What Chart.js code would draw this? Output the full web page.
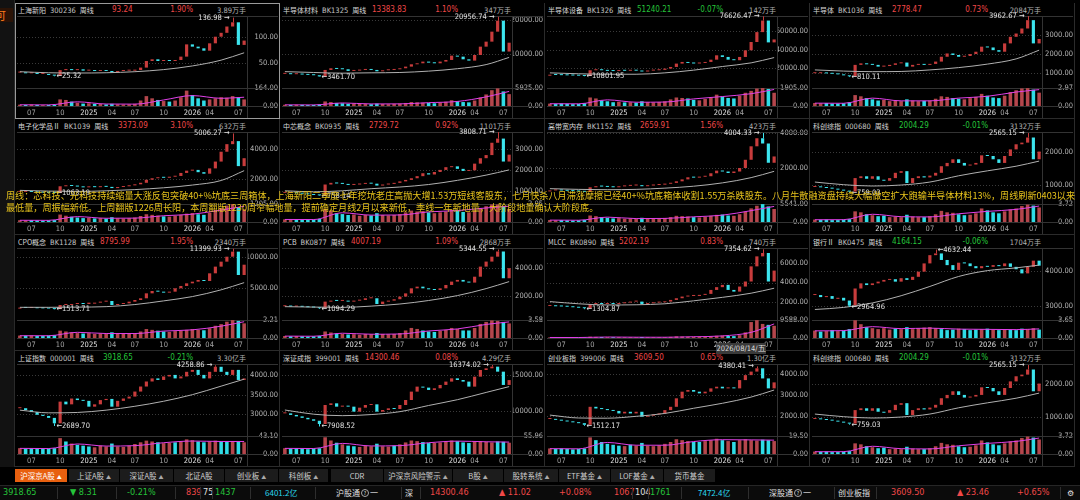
<!DOCTYPE html>
<html>
<head>
<meta charset="utf-8">
<title>周线 多股同列</title>
<script src="https://cdn.jsdelivr.net/npm/chart.js@4.4.1/dist/chart.umd.min.js"></script>
<style>
html, body { margin: 0; padding: 0; background: #000; }
#board { position: relative; width: 1080px; height: 500px; overflow: hidden; background: #000;
  font-family: "Noto Sans CJK SC", sans-serif; }
.side { position: absolute; left: 0; top: 0; width: 14px; height: 467px; background: #121212; border-right: 1px solid #2a2a2a; }
.side .mark { position: absolute; left: 0; top: 8px; width: 13px; height: 14px; background: #2b1306; color: #ff7b1c;
  font-size: 11px; line-height: 14px; overflow: hidden; text-indent: -5px; }
.panel { position: absolute; width: 265px; height: 116px; overflow: hidden; box-sizing: border-box;
  border-right: 1px solid #2b2b2b; border-bottom: 1px solid #2b2b2b; }
.panel canvas { position: absolute; left: 2px; top: 5px; }
.hd { position: absolute; top: 2px; height: 10px; line-height: 10px; white-space: nowrap; font-size: 7px; }
.nm { left: 3px; color: #d8d8d8; }
.narrow { font-family: "Liberation Sans Narrow", "DejaVu Sans Condensed", "Liberation Sans", sans-serif; }
.cd { font-size: 7.5px; color: #c6c6c6; margin: 0 4px; }
.pr, .pc { font-size: 8px; }
.pc { right: 86px; }
.am { right: 33px; color: #b4b4b4; }
.am .narrow { font-size: 7.5px; }
.up { color: #f04848; }
.dn { color: #25c43a; }
.wt { color: #e0e0e0; }
.cy { color: #2ad8f0; }
.sel { position: absolute; left: 15px; top: 3px; width: 265px; height: 116px; box-sizing: border-box;
  border: 1px solid #9a9a9a; pointer-events: none; }
#note { position: absolute; left: 6px; top: 190px; color: #e6c21c; font-size: 9.6px; line-height: 11.6px;
  white-space: nowrap; transform-origin: 0 0; }
.crossdate { position: absolute; left: 716px; top: 343px; width: 50px; height: 11px; line-height: 11px; background: #3a3a3a;
  color: #dedede; font-size: 7.5px; text-align: center; }
.tab { position: absolute; top: 469px; height: 13px; line-height: 13px; font-size: 7.5px; color: #cfcfcf;
  background: #1c1c1c; text-align: center; box-sizing: border-box; border-right: 1px solid #000; white-space: nowrap; }
.tab.on { background: #e8600f; color: #fff; }
.tab small { font-size: 5px; color: #aaa; margin-left: 2px; }
.tab.on small { color: #fff; }
.status { position: absolute; left: 0; top: 485px; width: 1080px; height: 15px; background: #0b0b0b; border-top: 1px solid #262626; }
.st { position: absolute; top: 487px; font-size: 8px; line-height: 11px; white-space: nowrap; }
.st.narrow { font-size: 9px; }
.sep { position: absolute; top: 487px; width: 1px; height: 12px; background: #2e2e2e; }
.q { display: inline-block; width: 6px; height: 6px; line-height: 6px; border: 1px solid #aaa; border-radius: 50%;
  font-size: 5px; text-align: center; vertical-align: 1px; margin: 0 1px; }
</style>
</head>
<body>
<div id="board">
  <div class="side"><div class="mark">可</div></div>
</div>
<script>
// weekly bars, roughly one point per three weeks from mid 2024 to 2026/08
const xTickLabels = ['', '', '07', '', '', '', '', '10', '', '', '', '', '2025', '', '', '', '04', '', '', '',
  '07', '', '', '', '', '10', '', '', '', '', '2026', '', '', '04', '', '', '', '', '07', ''];
const maIdx = [0, 5, 10, 15, 20, 25, 30, 35, 39];

// 上海新阳
const shxyClose = [32.3, 31, 31.6, 29.7, 29.7, 27.8, 26.5, 37, 39, 37, 38.6, 36, 36, 35.4, 36, 35.4, 33, 35.4, 36, 36,
  37.3, 41.8, 54.4, 57.6, 54.4, 56.3, 54.4, 56.3, 62.7, 86, 81.7, 78.5, 74, 88, 100.6, 108, 120, 128, 85, 93.24];
const shxyVol = [12, 10, 14, 10, 8, 10, 12, 60, 55, 40, 30, 22, 25, 20, 18, 15, 20, 15, 14, 15,
  20, 50, 90, 70, 55, 45, 40, 50, 80, 140, 100, 70, 50, 60, 70, 80, 75, 90, 80, 60];
const shxyMa = [34, 32, 31.5, 32, 34, 38, 45, 56, 70];
const shxyVolMa = [11, 10, 38, 18, 17, 55, 95, 70, 80];
const shxyTicks = [50, 100];

// 半导体材料
const bdtclClose = [4300, 4200, 4300, 4100, 4000, 3900, 3550, 5440, 5930, 5730, 5640, 5150, 5250, 5440, 5540, 5440, 5050, 5340, 5440, 5640,
  5930, 6410, 7090, 7380, 7870, 7570, 7380, 7870, 8350, 9610, 9320, 8540, 8160, 9800, 12230, 13690, 16600, 19800, 10800, 13383.83];
const bdtclVol = [400, 350, 420, 380, 300, 350, 500, 1500, 1300, 1000, 900, 700, 800, 650, 700, 600, 800, 650, 600, 700,
  800, 1000, 1300, 1200, 1100, 1000, 900, 1100, 1400, 1900, 1600, 1300, 1200, 1800, 2800, 3800, 5200, 5800, 4800, 3900];
const bdtclMa = [4950, 4700, 4500, 4600, 4700, 5100, 5800, 7000, 9100];
const bdtclVolMa = [380, 360, 1000, 680, 700, 1100, 1500, 3000, 4800];
const bdtclTicks = [10000, 20000];

// 半导体设备
const bdtsbClose = [12500, 12200, 12000, 11800, 11600, 11400, 11100, 17400, 18200, 17400, 16700, 16500, 17000, 16800, 17200, 16900, 16000, 17000, 17400, 17800,
  19200, 21000, 24700, 26500, 25400, 24800, 25400, 26500, 29000, 33800, 32000, 29000, 28400, 32000, 39300, 48400, 59300, 72000, 48000, 51240.21];
const bdtsbVol = [250, 220, 260, 230, 200, 220, 300, 900, 800, 600, 500, 400, 450, 380, 400, 350, 500, 400, 380, 420,
  500, 700, 900, 850, 800, 650, 600, 750, 900, 1200, 1000, 850, 800, 1100, 1400, 1600, 1850, 1900, 1800, 1400];
const bdtsbMa = [14500, 13500, 13000, 13000, 14500, 17500, 21500, 25500, 31300];
const bdtsbVolMa = [240, 230, 650, 400, 420, 750, 1000, 1300, 1750];
const bdtsbTicks = [20000, 40000, 60000];

// 半导体
const bdtClose = [1010, 1040, 1000, 980, 950, 900, 850, 1440, 1520, 1470, 1440, 1350, 1380, 1440, 1520, 1560, 1350, 1440, 1470, 1440,
  1490, 1610, 1860, 2030, 1950, 1860, 1900, 2000, 2120, 2380, 2340, 2200, 2120, 2550, 2890, 3060, 3320, 3750, 2550, 2778.47];
const bdtVol = [0.5, 0.45, 0.5, 0.4, 0.4, 0.45, 0.6, 1.8, 1.6, 1.3, 1.1, 0.9, 1.0, 0.8, 0.9, 0.8, 1.1, 0.9, 0.8, 0.85,
  0.9, 1.2, 1.6, 1.5, 1.3, 1.2, 1.1, 1.3, 1.5, 2.0, 1.7, 1.4, 1.3, 1.7, 2.3, 2.6, 2.9, 2.95, 2.7, 2.2];
const bdtMa = [1180, 1120, 1090, 1100, 1180, 1300, 1480, 1750, 2200];
const bdtVolMa = [0.47, 0.45, 1.3, 0.85, 0.85, 1.3, 1.6, 2.3, 2.7];
const bdtTicks = [1000, 2000, 3000];

// 电子化学品Ⅱ
const dzhxClose = [1150, 1160, 1140, 1120, 1100, 1090, 1080, 1520, 1580, 1540, 1500, 1450, 1480, 1460, 1500, 1480, 1400, 1470, 1520, 1580,
  1650, 1750, 1950, 2050, 2100, 2080, 2150, 2200, 2400, 2550, 2600, 2450, 2350, 2700, 3150, 3800, 4300, 4500, 2850, 3373.09];
const dzhxVol = [120, 110, 130, 100, 95, 110, 130, 500, 420, 350, 300, 260, 280, 240, 260, 230, 320, 250, 230, 260,
  300, 400, 520, 480, 430, 380, 360, 420, 480, 560, 600, 520, 480, 620, 800, 950, 1100, 1200, 1000, 850];
const dzhxMa = [1250, 1200, 1180, 1220, 1300, 1420, 1600, 1900, 2550];
const dzhxVolMa = [115, 110, 360, 250, 260, 420, 520, 800, 1050];
const dzhxTicks = [2000, 4000];

// 中芯概念
const zxgnClose = [900, 920, 880, 860, 830, 800, 780, 1300, 1380, 1350, 1330, 1280, 1300, 1330, 1360, 1340, 1250, 1300, 1330, 1380,
  1450, 1520, 1600, 1700, 1840, 1780, 1900, 2000, 2130, 2170, 2050, 1950, 1980, 2300, 2560, 2710, 3300, 3500, 2400, 2729.72];
const zxgnVol = [0.3, 0.28, 0.3, 0.26, 0.25, 0.28, 0.35, 1.5, 1.3, 1.0, 0.9, 0.8, 0.85, 0.7, 0.8, 0.75, 1.0, 0.8, 0.75, 0.8,
  0.9, 1.1, 1.3, 1.2, 1.25, 1.1, 1.0, 1.1, 1.2, 1.4, 1.3, 1.15, 1.1, 1.3, 1.6, 1.8, 2.0, 2.0, 1.8, 1.5];
const zxgnMa = [1000, 950, 1000, 1100, 1180, 1300, 1500, 1750, 2000];
const zxgnVolMa = [0.29, 0.28, 1.05, 0.78, 0.8, 1.15, 1.3, 1.6, 1.8];
const zxgnTicks = [1000, 2000, 3000];

// 高带宽内存
const hbmClose = [720, 740, 720, 700, 680, 660, 640, 900, 960, 940, 920, 900, 950, 980, 1000, 1020, 960, 1000, 1030, 1050,
  1100, 1150, 1240, 1350, 1470, 1450, 1500, 1530, 1700, 1850, 1800, 1715, 1800, 2000, 2470, 3240, 3700, 3400, 2300, 2659.91];
const hbmVol = [600, 550, 620, 500, 480, 520, 650, 2000, 1800, 1500, 1300, 1100, 1200, 1000, 1100, 950, 1300, 1050, 1000, 1100,
  1250, 1500, 1900, 1800, 1700, 1500, 1400, 1600, 1900, 2200, 2300, 2000, 1900, 2400, 3200, 4200, 5000, 5500, 4800, 4000];
const hbmMa = [820, 780, 760, 780, 850, 960, 1150, 1450, 1810];
const hbmVolMa = [580, 540, 1500, 1050, 1100, 1600, 2100, 3500, 4800];
const hbmTicks = [2000, 4000];

// 科创综指
const kczzClose = [930, 920, 900, 880, 850, 820, 790, 1200, 1255, 1180, 1255, 1150, 1120, 1200, 1360, 1410, 1050, 1200, 1255, 1220,
  1275, 1360, 1560, 1660, 1770, 1660, 1580, 1610, 1660, 1890, 1870, 1770, 1660, 1870, 2070, 2225, 2275, 2430, 1770, 2004.29];
const kczzVol = [0.5, 0.45, 0.5, 0.4, 0.4, 0.5, 0.6, 2.2, 2.0, 1.6, 1.4, 1.2, 1.3, 1.0, 1.1, 1.0, 1.5, 1.1, 1.0, 1.0,
  1.2, 1.6, 2.3, 2.0, 1.9, 1.6, 1.4, 1.5, 1.8, 2.8, 2.4, 2.0, 1.8, 2.2, 2.6, 2.8, 3.3, 3.6, 3.4, 3.0];
const kczzMa = [1080, 1000, 960, 990, 1080, 1270, 1420, 1560, 1715];
const kczzVolMa = [0.47, 0.48, 1.6, 1.1, 1.05, 1.7, 2.2, 2.6, 3.3];
const kczzTicks = [1000, 2000];

// CPO概念
const cpoClose = [1800, 1750, 1780, 1700, 1680, 1650, 1560, 2230, 2390, 2390, 2500, 2390, 2610, 2610, 2770, 2880, 2230, 2390, 2500, 2770,
  3040, 3320, 4130, 4510, 4400, 4240, 4400, 4950, 5330, 5760, 6030, 6300, 6140, 7390, 8480, 9290, 10100, 10920, 7120, 8795.99];
const cpoVol = [0.3, 0.28, 0.3, 0.25, 0.25, 0.3, 0.35, 0.9, 0.8, 0.7, 0.6, 0.55, 0.6, 0.5, 0.55, 0.5, 0.7, 0.55, 0.5, 0.55,
  0.6, 0.8, 1.1, 1.0, 0.9, 0.8, 0.75, 0.85, 0.9, 1.0, 1.1, 1.0, 0.95, 1.2, 1.5, 1.7, 2.0, 2.2, 2.1, 1.8];
const cpoMa = [1850, 1850, 1880, 1960, 2300, 2900, 3600, 4700, 5870];
const cpoVolMa = [0.28, 0.28, 0.7, 0.55, 0.55, 0.85, 1.0, 1.45, 2.0];
const cpoTicks = [5000, 10000];

// PCB
const pcbClose = [1290, 1270, 1280, 1250, 1220, 1200, 1150, 1620, 1690, 1670, 1690, 1620, 1690, 1740, 1860, 1860, 1450, 1620, 1690, 1790,
  1980, 2210, 2570, 2690, 2570, 2500, 2450, 2570, 2810, 3050, 3170, 3050, 2980, 3400, 4120, 4480, 4830, 5200, 3290, 4007.19];
const pcbVol = [0.4, 0.35, 0.4, 0.35, 0.3, 0.35, 0.4, 1.3, 1.1, 0.9, 0.8, 0.7, 0.75, 0.65, 0.8, 0.75, 1.0, 0.8, 0.75, 0.8,
  1.0, 1.5, 2.0, 1.8, 1.5, 1.3, 1.2, 1.4, 1.6, 2.0, 1.8, 1.5, 1.5, 2.0, 2.8, 3.2, 3.5, 3.4, 3.2, 2.9];
const pcbMa = [1260, 1230, 1210, 1300, 1450, 1700, 2050, 2550, 3050];
const pcbVolMa = [0.37, 0.35, 0.95, 0.75, 0.8, 1.4, 1.8, 2.7, 3.2];
const pcbTicks = [2000, 4000];

// MLCC
const mlccClose = [1630, 1600, 1580, 1550, 1500, 1450, 1400, 1830, 1900, 1830, 1900, 1830, 1900, 1970, 2070, 2070, 1830, 1900, 1970, 2000,
  2070, 2240, 2410, 2580, 2640, 2640, 2750, 2850, 3250, 3530, 3760, 3250, 3080, 3590, 4100, 5630, 6640, 6980, 4100, 5202.19];
const mlccVol = [300, 250, 280, 250, 220, 250, 300, 700, 600, 500, 450, 400, 450, 400, 420, 400, 500, 400, 380, 400,
  450, 600, 900, 800, 700, 650, 600, 700, 900, 1200, 1300, 1100, 1000, 1500, 3000, 8500, 9500, 7500, 7000, 6500];
const mlccMa = [2070, 1850, 1730, 1750, 1850, 2150, 2500, 2920, 3420];
const mlccVolMa = [270, 250, 520, 420, 400, 680, 1100, 3000, 7500];
const mlccTicks = [2000, 4000, 6000];

// 银行Ⅱ
const yhClose = [3310, 3250, 3280, 3200, 3230, 3150, 3000, 3500, 3650, 3600, 3650, 3700, 3750, 3770, 3700, 3800, 3750, 3840, 3990, 4230,
  4470, 4520, 4330, 4180, 4040, 4250, 4230, 4150, 4090, 4150, 4130, 4180, 4150, 4230, 4130, 4060, 3940, 4130, 4310, 4164.15];
const yhVol = [1.5, 1.3, 1.4, 1.6, 1.4, 1.5, 1.8, 3.6, 2.8, 2.2, 2.0, 1.8, 2.0, 1.7, 1.9, 1.8, 2.2, 1.8, 2.0, 2.1,
  2.2, 2.0, 1.8, 1.6, 1.7, 1.9, 1.8, 1.6, 1.7, 1.8, 1.9, 1.7, 1.6, 1.8, 1.7, 1.6, 1.9, 1.8, 2.0, 1.7];
const yhMa = [2890, 2950, 3080, 3290, 3560, 3850, 4020, 4100, 4180];
const yhVolMa = [1.45, 1.5, 2.3, 1.9, 2.0, 1.8, 1.75, 1.7, 1.85];
const yhTicks = [3000, 4000];

// 上证指数
const szzsClose = [3150, 3100, 3050, 2980, 2950, 2900, 2760, 3320, 3250, 3400, 3360, 3340, 3190, 3250, 3360, 3390, 3190, 3340, 3400, 3450,
  3580, 3710, 3840, 3920, 3880, 3970, 4010, 3920, 3970, 4090, 4140, 4010, 3920, 4090, 4220, 4090, 4010, 4140, 3880, 3918.65];
const szzsVol = [14, 13, 14, 13, 12, 13, 14, 38, 30, 25, 22, 20, 18, 16, 20, 18, 25, 18, 17, 20,
  24, 28, 32, 30, 28, 26, 27, 28, 30, 35, 33, 30, 28, 30, 32, 30, 29, 31, 30, 28];
const szzsMa = [3100, 3030, 3040, 3100, 3200, 3330, 3500, 3720, 3900];
const szzsVolMa = [13.5, 13, 24, 19, 20, 27, 31, 30, 30];
const szzsTicks = [3000, 3500, 4000];

// 深证成指
const szczClose = [9720, 9500, 9300, 9100, 8900, 8700, 8250, 10870, 11100, 10640, 10780, 10640, 9950, 10500, 10870, 10960, 9950, 10180, 10410, 10320,
  10870, 11560, 12710, 13400, 13260, 12940, 13170, 13630, 14090, 14540, 14310, 14090, 13400, 14770, 15690, 15920, 16150, 15460, 13630, 14300.46];
const szczVol = [18, 17, 18, 16, 15, 17, 18, 52, 42, 35, 30, 26, 24, 22, 26, 24, 32, 24, 23, 26,
  30, 36, 42, 40, 37, 34, 35, 36, 38, 42, 40, 36, 34, 38, 40, 38, 36, 39, 38, 35];
const szczMa = [10180, 9600, 9400, 9550, 9950, 10800, 11600, 12600, 13400];
const szczVolMa = [17.5, 17, 33, 25, 26, 35, 40, 38, 37];
const szczTicks = [10000, 15000];

// 创业板指
const cybzClose = [1840, 1800, 1760, 1720, 1680, 1640, 1560, 2430, 2350, 2320, 2270, 2230, 2110, 2190, 2110, 2190, 1950, 2000, 2060, 2110,
  2270, 2430, 2840, 3160, 3240, 3160, 3080, 3160, 3320, 3400, 3320, 3350, 3320, 3720, 3960, 4130, 4290, 3800, 3320, 3609.50];
const cybzVol = [6, 5.5, 6, 5.5, 5, 5.5, 6, 18, 15, 13, 11, 10, 9, 8.5, 10, 9, 12, 9, 8.5, 9.5,
  11, 13, 16, 15, 14, 13, 13, 14, 15, 16.5, 15, 14, 13, 15, 16, 15, 14.5, 15.5, 15, 14];
const cybzMa = [2030, 1890, 1880, 1970, 2110, 2360, 2600, 2900, 3240];
const cybzVolMa = [5.8, 5.6, 12.5, 9.5, 9.5, 13.5, 15.5, 15.3, 15];
const cybzTicks = [2000, 3000, 4000];

const kczzPanel = { name: '科创综指', code: '000680', price: '2004.29', pct: '-0.01%', amount: '3132', unit: '万手', priceX: 87,
  close: kczzClose, vol: kczzVol, ma: kczzMa, volMa: kczzVolMa, ticks: kczzTicks, volTop: 3.72, yMin: 415, yMax: 2597,
  hi: { i: 37, v: 2565.15, side: 'L' }, lo: { i: 6, v: 759.03 } };

const panels = [
  { name: '上海新阳', code: '300236', price: '93.24', pct: '1.90%', amount: '3.89', unit: '万手', priceX: 95,
    close: shxyClose, vol: shxyVol, ma: shxyMa, volMa: shxyVolMa, ticks: shxyTicks, volTop: 164, yMin: 3, yMax: 140,
    hi: { i: 37, v: 136.98, side: 'L' }, lo: { i: 6, v: 25.32 } },
  { name: '半导体材料', code: 'BK1325', price: '13383.83', pct: '1.10%', amount: '347', unit: '万手', priceX: 90,
    close: bdtclClose, vol: bdtclVol, ma: bdtclMa, volMa: bdtclVolMa, ticks: bdtclTicks, volTop: 5925, yMin: 177, yMax: 21166,
    hi: { i: 37, v: 20956.74, side: 'L' }, lo: { i: 6, v: 3461.70 } },
  { name: '半导体设备', code: 'BK1326', price: '51240.21', pct: '-0.07%', amount: '142', unit: '万手', priceX: 90,
    close: bdtsbClose, vol: bdtsbVol, ma: bdtsbMa, volMa: bdtsbVolMa, ticks: bdtsbTicks, volTop: 1905, yMin: -2127, yMax: 77000,
    hi: { i: 37, v: 76626.47, side: 'L' }, lo: { i: 6, v: 10801.95 } },
  { name: '半导体', code: 'BK1036', price: '2778.47', pct: '0.73%', amount: '2084', unit: '万手', priceX: 80,
    close: bdtClose, vol: bdtVol, ma: bdtMa, volMa: bdtVolMa, ticks: bdtTicks, volTop: 2.97, yMin: 246, yMax: 3965,
    hi: { i: 37, v: 3962.67, side: 'L' }, lo: { i: 6, v: 810.11 } },
  { name: '电子化学品Ⅱ', code: 'BK1039', price: '3373.09', pct: '3.10%', amount: '632', unit: '万手', priceX: 101,
    close: dzhxClose, vol: dzhxVol, ma: dzhxMa, volMa: dzhxVolMa, ticks: dzhxTicks, volTop: 1205, yMin: 350, yMax: 5102,
    hi: { i: 37, v: 5006.27, side: 'L' }, lo: { i: 6, v: 1063.19 } },
  { name: '中芯概念', code: 'BK0935', price: '2729.72', pct: '0.92%', amount: '1101', unit: '万手', priceX: 87,
    close: zxgnClose, vol: zxgnVol, ma: zxgnMa, volMa: zxgnVolMa, ticks: zxgnTicks, volTop: 2.05, yMin: 367, yMax: 3815,
    hi: { i: 37, v: 3808.71, side: 'L' }, lo: { i: 6, v: 758.14 } },
  { name: '高带宽内存', code: 'BK1152', price: '2659.91', pct: '1.56%', amount: '423', unit: '万手', priceX: 93,
    close: hbmClose, vol: hbmVol, ma: hbmMa, volMa: hbmVolMa, ticks: hbmTicks, volTop: 5541, yMin: -56, yMax: 4057,
    hi: { i: 37, v: 4004.33, side: 'L' }, lo: null },
  kczzPanel,
  { name: 'CPO概念', code: 'BK1128', price: '8795.99', pct: '1.95%', amount: '2340', unit: '万手', priceX: 83,
    close: cpoClose, vol: cpoVol, ma: cpoMa, volMa: cpoVolMa, ticks: cpoTicks, volTop: 2.21, yMin: -216, yMax: 11516,
    hi: { i: 37, v: 11399.93, side: 'L' }, lo: { i: 6, v: 1513.71 } },
  { name: 'PCB', code: 'BK0877', price: '4007.19', pct: '1.09%', amount: '2868', unit: '万手', priceX: 69,
    close: pcbClose, vol: pcbVol, ma: pcbMa, volMa: pcbVolMa, ticks: pcbTicks, volTop: 3.58, yMin: 308, yMax: 5450,
    hi: { i: 37, v: 5344.55, side: 'L' }, lo: { i: 6, v: 1094.29 } },
  { name: 'MLCC', code: 'BK0890', price: '5202.19', pct: '0.83%', amount: '740', unit: '万手', priceX: 72,
    close: mlccClose, vol: mlccVol, ma: mlccMa, volMa: mlccVolMa, ticks: mlccTicks, volTop: 9588, yMin: 212, yMax: 7485,
    hi: { i: 37, v: 7354.62, side: 'L' }, lo: { i: 6, v: 1304.87 } },
  { name: '银行Ⅱ', code: 'BK0475', price: '4164.15', pct: '-0.06%', amount: '1704', unit: '万手', priceX: 80,
    close: yhClose, vol: yhVol, ma: yhMa, volMa: yhVolMa, ticks: yhTicks, volTop: 3.65, yMin: 2584, yMax: 4678,
    hi: { i: 21, v: 4632.44, side: 'R' }, lo: { i: 6, v: 2964.96 } },
  { name: '上证指数', code: '000001', price: '3918.65', pct: '-0.21%', amount: '3.30', unit: '亿手', priceX: 86,
    close: szzsClose, vol: szzsVol, ma: szzsMa, volMa: szzsVolMa, ticks: szzsTicks, volTop: 43.10, yMin: 2432, yMax: 4292,
    hi: { i: 34, v: 4258.86, side: 'L' }, lo: { i: 6, v: 2689.70 } },
  { name: '深证成指', code: '399001', price: '14300.46', pct: '0.08%', amount: '4.29', unit: '亿手', priceX: 83,
    close: szczClose, vol: szczVol, ma: szczMa, volMa: szczVolMa, ticks: szczTicks, volTop: 55.96, yMin: 6599, yMax: 16515,
    hi: { i: 36, v: 16374.02, side: 'L' }, lo: { i: 6, v: 7908.52 } },
  { name: '创业板指', code: '399006', price: '3609.50', pct: '0.65%', amount: '1.30', unit: '亿手', priceX: 87,
    close: cybzClose, vol: cybzVol, ma: cybzMa, volMa: cybzVolMa, ticks: cybzTicks, volTop: 19.50, yMin: 1020, yMax: 4497,
    hi: { i: 36, v: 4380.41, side: 'L' }, lo: { i: 6, v: 1512.17 } },
  kczzPanel
];

const rowTops = [3, 119, 235, 351];
const smallFont = { family: '"Liberation Sans Narrow","DejaVu Sans Condensed","Liberation Sans",sans-serif', size: 7.5 };
const upFill = '#c83c3c', downFill = '#3ce4ee';
const upVol = '#b4464c', downVol = '#2fdce6';
const board = document.getElementById('board');

function decor(p) {
  return {
    id: 'decor',
    beforeDatasetsDraw(chart) {
      const { ctx, chartArea: a, scales } = chart;
      ctx.save();
      ctx.lineWidth = 1;
      ctx.strokeStyle = '#3a3a3a';
      ctx.setLineDash([1, 2]);
      ctx.beginPath();
      scales.y.ticks.forEach(t => {
        const y = Math.round(scales.y.getPixelForValue(t.value)) + 0.5;
        ctx.moveTo(a.left, y);
        ctx.lineTo(a.right, y);
      });
      ctx.stroke();
      ctx.setLineDash([]);
      ctx.strokeStyle = '#333';
      ctx.beginPath();
      [a.top, scales.yv.top, a.bottom].forEach(v => {
        const y = Math.round(v) + 0.5;
        ctx.moveTo(0, y);
        ctx.lineTo(chart.width, y);
      });
      const xr = Math.round(a.right) + 0.5;
      ctx.moveTo(xr, a.top);
      ctx.lineTo(xr, chart.height);
      ctx.stroke();
      ctx.restore();
    },
    afterDatasetsDraw(chart) {
      const { ctx, scales } = chart;
      const bars = chart.getDatasetMeta(0).data;
      ctx.save();
      ctx.font = smallFont.size + 'px ' + smallFont.family;
      ctx.textBaseline = 'middle';
      const mark = (m, high) => {
        const px = scales.x.getPixelForValue(m.i);
        const py = scales.y.getPixelForValue(m.v);
        const b = bars[m.i];
        const end = high ? Math.min(b.y, b.base) : Math.max(b.y, b.base);
        ctx.strokeStyle = b.options.backgroundColor;
        ctx.beginPath();
        ctx.moveTo(Math.round(px) + 0.5, end);
        ctx.lineTo(Math.round(px) + 0.5, py);
        ctx.stroke();
        ctx.fillStyle = '#e2e2e2';
        if (high && m.side === 'L') {
          ctx.textAlign = 'right';
          ctx.fillText(m.v.toFixed(2) + ' →', px - 3, py);
        } else {
          ctx.textAlign = 'left';
          ctx.fillText('←' + m.v.toFixed(2), px + 2, py);
        }
      };
      if (p.hi) mark(p.hi, true);
      if (p.lo) mark(p.lo, false);
      ctx.restore();
    }
  };
}

function sparse(values) {
  const out = xTickLabels.map(() => null);
  maIdx.forEach((ix, j) => { out[ix] = values[j]; });
  return out;
}

function drawPanel(p, k) {
  const row = Math.floor(k / 4), col = k % 4;
  const box = document.createElement('div');
  box.className = 'panel';
  box.style.left = (15 + col * 265) + 'px';
  box.style.top = rowTops[row] + 'px';
  const dir = p.pct.charAt(0) === '-' ? 'dn' : 'up';
  box.innerHTML =
    '<div class="hd nm">' + p.name + '<span class="cd narrow">' + p.code + '</span>周线</div>' +
    '<div class="hd pr narrow ' + dir + '" style="left:' + (2 + p.priceX) + 'px">' + p.price + '</div>' +
    '<div class="hd pc narrow ' + dir + '">' + p.pct + '</div>' +
    '<div class="hd am"><span class="narrow">' + p.amount + '</span>' + p.unit + '</div>';
  const cv = document.createElement('canvas');
  cv.width = 261;
  cv.height = 111;
  box.appendChild(cv);
  board.appendChild(box);

  const opens = p.close.map((v, i) => i ? p.close[i - 1] : v);
  const rising = p.close.map((v, i) => v >= opens[i]);

  new Chart(cv, {
    type: 'bar',
    data: {
      labels: xTickLabels,
      datasets: [
        {
          type: 'bar', yAxisID: 'y', grouped: false, order: 2,
          data: p.close.map((v, i) => [opens[i], v]),
          backgroundColor: rising.map(u => u ? upFill : downFill),
          borderWidth: 0, barPercentage: 0.55, categoryPercentage: 1, minBarLength: 1
        },
        {
          type: 'line', yAxisID: 'y', order: 1, data: sparse(p.ma), spanGaps: true,
          borderColor: '#b0b0b0', borderWidth: 1, pointRadius: 0, cubicInterpolationMode: 'monotone'
        },
        {
          type: 'bar', yAxisID: 'yv', grouped: false, order: 3, data: p.vol,
          backgroundColor: rising.map(u => u ? upVol : downVol),
          borderWidth: 0, barPercentage: 0.62, categoryPercentage: 1
        },
        {
          type: 'line', yAxisID: 'yv', order: 0, data: sparse(p.volMa), spanGaps: true,
          borderColor: '#e040e8', borderWidth: 1, pointRadius: 0, cubicInterpolationMode: 'monotone'
        }
      ]
    },
    options: {
      responsive: false,
      animation: false,
      events: [],
      layout: { padding: { top: 8 } },
      plugins: { legend: { display: false }, tooltip: { enabled: false } },
      scales: {
        x: {
          offset: true,
          grid: { display: false, drawTicks: false },
          border: { display: false },
          ticks: {
            autoSkip: false, maxRotation: 0, padding: 3, font: smallFont,
            color: c => /^20/.test(xTickLabels[c.index]) ? '#e2e2e2' : '#a4a4a4'
          },
          afterFit: s => { s.height = 13; s.paddingLeft = 0; s.paddingRight = 0; }
        },
        y: {
          position: 'right', stack: 'k', stackWeight: 72, min: p.yMin, max: p.yMax,
          afterBuildTicks: s => { s.ticks = p.ticks.map(v => ({ value: v })); },
          grid: { display: false, drawTicks: false },
          border: { display: false },
          ticks: { autoSkip: false, color: '#b4b4b4', font: smallFont, crossAlign: 'far', padding: 0, callback: v => v.toFixed(2) },
          afterFit: s => { s.width = 31; s.paddingTop = 0; s.paddingBottom = 0; }
        },
        yv: {
          position: 'right', stack: 'k', stackWeight: 18, min: 0, max: p.volTop,
          afterBuildTicks: s => { s.ticks = [{ value: 0 }, { value: p.volTop }]; },
          grid: { display: false, drawTicks: false },
          border: { display: false },
          ticks: { autoSkip: false, color: '#b4b4b4', font: smallFont, crossAlign: 'far', padding: 0, callback: v => v.toFixed(2) },
          afterFit: s => { s.width = 31; s.paddingTop = 0; s.paddingBottom = 0; }
        }
      }
    },
    plugins: [decor(p)]
  });
}

panels.forEach(drawPanel);

const sel = document.createElement('div');
sel.className = 'sel';
board.appendChild(sel);

const cross = document.createElement('div');
cross.className = 'crossdate narrow';
cross.textContent = '2026/08/14/五';
board.appendChild(cross);

const note = document.createElement('div');
note.id = 'note';
note.innerHTML = '<span>周线：芯科技、光科技持续缩量大涨反包突破40+%坑底三周箱体，上海新阳二季度七年挖坑老庄高抛大增1.53万短线客股东，七月快杀八月滞涨摩擦已经40+%坑底箱体收割1.55万杀跌股东。八月牛散融资盘持续大幅做空扩大跑输半导体材料13%，周线刷新0403以来</span><br>' +
  '<span>最低量，周振幅新低。上周翻版1226周长阳，本周翻版1230周窄幅地量，提前确定月线2月以来新低，季线一年新地量，大阶段地量确认大阶段底。</span>';
board.appendChild(note);
const w1 = note.firstElementChild.getBoundingClientRect().width;
note.style.transform = 'scaleX(' + (1069 / w1) + ')';

// bottom tabs
const tabNames = ['沪深京A股', '上证A股', '深证A股', '北证A股', '创业板', '科创板', 'CDR', '沪深京风险警示', 'B股', '股转系统', 'ETF基金', 'LOF基金', '货币基金'];
const tabArrow = [1, 1, 1, 0, 1, 1, 0, 1, 1, 1, 1, 1, 0];
const tabLefts = [15, 69, 120, 174, 225, 279, 331, 384, 453, 504, 559, 611, 664];
const tabWidths = [53, 51, 54, 51, 54, 50, 53, 69, 51, 55, 52, 53, 52];
tabNames.forEach((t, i) => {
  const d = document.createElement('div');
  d.className = 'tab' + (i === 0 ? ' on' : '');
  d.style.left = tabLefts[i] + 'px';
  d.style.width = tabWidths[i] + 'px';
  d.innerHTML = t + (tabArrow[i] ? '<small>▲</small>' : '');
  board.appendChild(d);
});

// status bar
const bar = document.createElement('div');
bar.className = 'status';
board.appendChild(bar);
const statusItems = [
  ['3918.65', 3, 'dn narrow'], ['▼ 8.31', 70, 'dn narrow'], ['-0.21%', 127, 'dn narrow'],
  ['839', 186, 'up narrow'], ['75', 203, 'wt narrow'], ['1437', 215, 'dn narrow'],
  ['6401.2亿', 265, 'cy'], ['沪股通<span class="q">?</span>一', 336, 'wt'], ['深', 405, 'wt'],
  ['14300.46', 430, 'up narrow'], ['▲ 11.02', 499, 'up narrow'], ['+0.08%', 559, 'up narrow'],
  ['1067', 614, 'up narrow'], ['104', 635, 'wt narrow'], ['1761', 650, 'dn narrow'],
  ['7472.4亿', 698, 'cy'], ['深股通<span class="q">?</span>一', 769, 'wt'], ['创业板指', 838, 'wt'],
  ['3609.50', 891, 'up narrow'], ['▲ 23.46', 957, 'up narrow'], ['+0.65%', 1017, 'up narrow'], ['⚙', 1067, 'wt']
];
statusItems.forEach(([t, x, c]) => {
  const s = document.createElement('div');
  s.className = 'st ' + c;
  s.style.left = x + 'px';
  s.innerHTML = t;
  board.appendChild(s);
});
[57, 116, 175, 200, 212, 250, 315, 401, 420, 632, 648, 681, 748, 834, 876, 1060].forEach(x => {
  const s = document.createElement('div');
  s.className = 'sep';
  s.style.left = x + 'px';
  board.appendChild(s);
});
</script>
</body>
</html>
